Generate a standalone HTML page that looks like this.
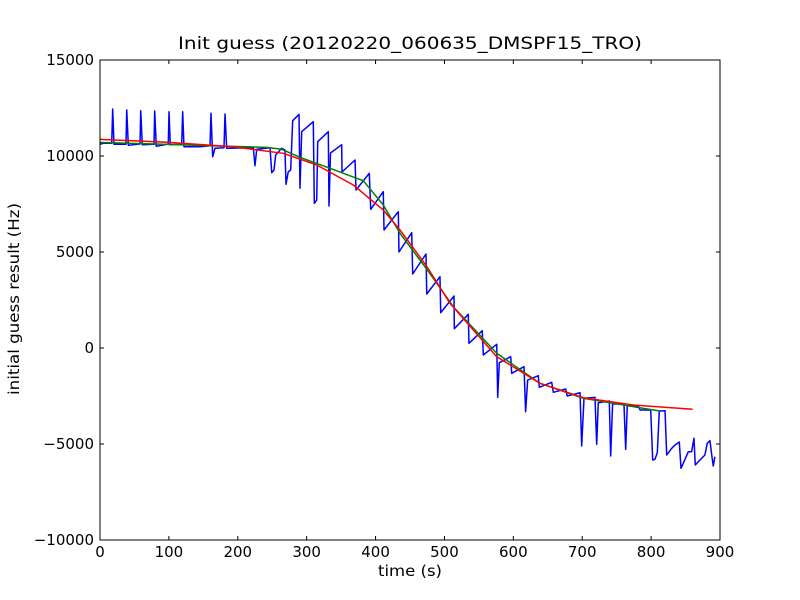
<!DOCTYPE html>
<html>
<head>
<meta charset="utf-8">
<style>
  html, body { margin: 0; padding: 0; background: #fff; }
  svg { display: block; font-family: "DejaVu Sans", "Liberation Sans", sans-serif; }
</style>
</head>
<body>
<svg id="chart" width="800" height="600" viewBox="0 0 800 600">
  <rect x="0" y="0" width="800" height="600" fill="#ffffff"/>
  <rect x="100" y="60" width="620" height="480" fill="#ffffff"/>
  <g id="series"></g>
  <rect x="100" y="60" width="620" height="480" fill="none" stroke="#000" stroke-width="1"/>
  <g id="ticks"></g>
  <text x="410" y="49" font-size="17" text-anchor="middle" textLength="464" lengthAdjust="spacingAndGlyphs">Init guess (20120220_060635_DMSPF15_TRO)</text>
  <text x="410" y="576" font-size="15" text-anchor="middle" textLength="64" lengthAdjust="spacingAndGlyphs">time (s)</text>
  <text x="0" y="0" font-size="15" text-anchor="middle" transform="translate(19,299) rotate(-90)" textLength="192" lengthAdjust="spacingAndGlyphs">initial guess result (Hz)</text>
</svg>
<script>
const xTicks = [0, 100, 200, 300, 400, 500, 600, 700, 800, 900];
const yTicks = [-10000, -5000, 0, 5000, 10000, 15000];
const xLabels = ["0", "100", "200", "300", "400", "500", "600", "700", "800", "900"];
const yLabels = ["\u221210000", "\u22125000", "0", "5000", "10000", "15000"];

const blueT = [0,4.8,17,18.4,20.3,37.7,38.8,41.1,58.1,59.1,61.4,78.4,79.4,81.7,99.1,100.2,102,118.6,120,121.9,145.2,159.7,161.1,163.6,166.9,180,181.5,183.9,222.5,225,227.5,246.8,249.3,252.6,255,263.8,268.5,270,273.3,276.8,279.7,285.5,288.9,290.3,292.8,309.6,311.1,314.6,316,331.4,332.4,334.6,350.8,351.3,370.2,371.6,390.9,393,411.2,412.3,433,434,452.5,453.9,473.2,474.3,493.5,494.6,513.9,514.3,534.6,535.6,554.9,556.4,575.9,577.3,579.6,596.2,597.6,615.5,617.8,620.8,636.2,637.7,655.7,658,676,678.3,696.8,699.2,702.6,718.5,721,723.3,739.3,741.3,744.1,760.6,763.1,765.4,781.4,783.9,799.4,802.3,805.6,809,811.9,820.2,822.6,829.9,834.7,840.9,843.4,847.7,854,858.8,862.2,864.1,870.9,878.1,881.5,885.4,887.8,890.2,892.6];
const blueV = [10609,10661,10661,12448,10609,10609,12396,10557,10625,12359,10583,10609,12343,10505,10625,12307,10583,10609,12307,10484,10484,10536,12224,9963,10401,10432,12187,10401,10432,9495,10349,10432,9130,9271,10052,10401,10312,8526,9182,9271,11839,12047,12172,8318,11266,11787,7536,7708,10745,11266,7396,10156,10589,9167,9792,8229,9099,7224,8141,6146,7099,5000,6005,3854,4896,2812,3714,1839,2708,1005,1755,245,901,-365,193,-2568,-766,-453,-1318,-974,-3318,-1667,-1443,-2047,-1787,-2307,-2135,-2500,-2328,-5104,-2620,-2568,-5016,-2849,-2760,-5625,-2917,-2917,-5276,-3005,-3021,-3229,-3229,-5833,-5797,-5453,-3281,-3266,-5573,-5224,-5052,-4896,-6266,-5922,-5401,-5401,-4703,-6094,-5833,-5573,-4964,-4828,-5521,-6146,-5661];

const greenT = [0,79.8,159.7,242,263.8,290.3,333.9,370.2,382.2,411.2,435.5,474.1,512.9,575.9,638.7,701.6,774.2,812.9];
const greenV = [10700,10625,10536,10450,10349,9930,9360,8870,8714,7448,5974,4115,2151,-276,-1840,-2620,-3057,-3281];

const redT = [0,96.8,193.5,266,314.6,367.7,411.2,435.5,474,508,575.9,638.7,701.6,774.2,860.2];
const redV = [10869,10713,10484,10140,9531,8490,7187,6146,4271,2328,-453,-1840,-2589,-2969,-3193];

const X0 = 100, X1 = 720, Y0 = 540, Y1 = 60;
const xMin = 0, xMax = 900, yMin = -10000, yMax = 15000;
function xs(t) { return X0 + (t - xMin) / (xMax - xMin) * (X1 - X0); }
function ys(v) { return Y0 - (v - yMin) / (yMax - yMin) * (Y0 - Y1); }

const NS = "http://www.w3.org/2000/svg";
const seriesG = document.getElementById("series");
const ticksG = document.getElementById("ticks");

function drawLine(ts, vs, color, name) {
  const pts = ts.map((t, i) => xs(t).toFixed(2) + "," + ys(vs[i]).toFixed(2)).join(" ");
  const pl = document.createElementNS(NS, "polyline");
  pl.setAttribute("points", pts);
  pl.setAttribute("fill", "none");
  pl.setAttribute("stroke", color);
  pl.setAttribute("stroke-width", "1.5");
  pl.setAttribute("stroke-linejoin", "round");
  
  
  seriesG.appendChild(pl);
}
drawLine(blueT, blueV, "#0000ff", "raw-guess-line");
drawLine(greenT, greenV, "#008000", "smoothed-line");
drawLine(redT, redV, "#ff0000", "fit-line");

xTicks.forEach((t, i) => {
  const x = xs(t);
  const b = document.createElementNS(NS, "line");
  b.setAttribute("x1", x); b.setAttribute("x2", x);
  b.setAttribute("y1", Y0); b.setAttribute("y2", Y0 - 4);
  b.setAttribute("stroke", "#000");
  
  
  ticksG.appendChild(b);
  const tp = document.createElementNS(NS, "line");
  tp.setAttribute("x1", x); tp.setAttribute("x2", x);
  tp.setAttribute("y1", Y1); tp.setAttribute("y2", Y1 + 4);
  tp.setAttribute("stroke", "#000");
  
  
  ticksG.appendChild(tp);
  const lbl = document.createElementNS(NS, "text");
  lbl.setAttribute("x", x);
  lbl.setAttribute("y", 557);
  lbl.setAttribute("font-size", "15");
  lbl.setAttribute("text-anchor", "middle");
  lbl.textContent = xLabels[i];
  
  
  ticksG.appendChild(lbl);
});

yTicks.forEach((v, i) => {
  const y = ys(v);
  const l = document.createElementNS(NS, "line");
  l.setAttribute("x1", X0); l.setAttribute("x2", X0 + 4);
  l.setAttribute("y1", y); l.setAttribute("y2", y);
  l.setAttribute("stroke", "#000");
  
  
  ticksG.appendChild(l);
  const r = document.createElementNS(NS, "line");
  r.setAttribute("x1", X1); r.setAttribute("x2", X1 - 4);
  r.setAttribute("y1", y); r.setAttribute("y2", y);
  r.setAttribute("stroke", "#000");
  
  
  ticksG.appendChild(r);
  const lbl = document.createElementNS(NS, "text");
  lbl.setAttribute("x", 94);
  lbl.setAttribute("y", y + 5);
  lbl.setAttribute("font-size", "15");
  lbl.setAttribute("text-anchor", "end");
  lbl.textContent = yLabels[i];
  
  
  ticksG.appendChild(lbl);
});
</script>
</body>
</html>
